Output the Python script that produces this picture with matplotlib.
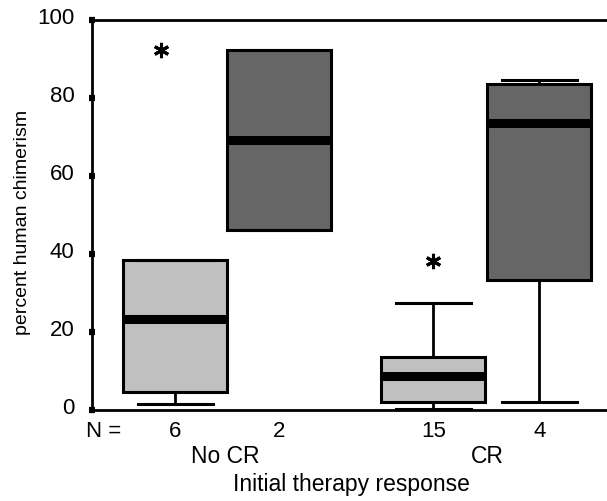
import matplotlib
matplotlib.use("Agg")
import matplotlib.pyplot as plt
import matplotlib.transforms as mtransforms

plt.rcParams['font.family'] = ['Liberation Sans', 'DejaVu Sans']

# Summary statistics per group (percent human chimerism)
groups = ["No CR", "No CR", "CR", "CR"]
n_labels = ["6", "2", "15", "4"]
q1 = [4.7, 46.2, 2.0, 33.3]
medians = [23.3, 69.2, 8.6, 73.6]
q3 = [38.5, 92.3, 13.5, 83.6]
whisker_low = [1.5, 46.2, 0.3, 2.0]
whisker_high = [38.5, 92.3, 27.4, 84.6]
outliers = [[92.3], [], [38.2], []]
outlier_x_offset = [-0.14, 0.0, 0.0, 0.0]
box_colors = ["#c0c0c0", "#666666", "#c0c0c0", "#666666"]
positions = [1.0, 2.0, 3.48, 4.5]
group_names = ["No CR", "CR"]
group_centers = [1.485, 4.0]
yticks = [0, 20, 40, 60, 80, 100]

fig = plt.figure(figsize=(6.07, 5.01), dpi=100)
ax = fig.add_axes([92 / 607, 91 / 501, 1 - 92 / 607, 390 / 501])

stats = []
for i in range(len(positions)):
    stats.append(dict(q1=q1[i], med=medians[i], q3=q3[i],
                      whislo=whisker_low[i], whishi=whisker_high[i],
                      fliers=[]))

bp = ax.bxp(stats, positions=positions, widths=1.0, capwidths=0.72,
            patch_artist=True, showfliers=False,
            boxprops=dict(linewidth=2.2, edgecolor="black"),
            whiskerprops=dict(linewidth=2.0, color="black"),
            capprops=dict(linewidth=2.2, color="black"),
            medianprops=dict(linewidth=6.5, color="black", solid_capstyle="butt"))
for patch, c in zip(bp["boxes"], box_colors):
    patch.set_facecolor(c)

# Extreme values drawn as asterisks
for pos, off, vals in zip(positions, outlier_x_offset, outliers):
    if vals:
        ax.plot([pos + off] * len(vals), vals, linestyle="none",
                marker=(6, 2, 0), markersize=11, markeredgewidth=2.2,
                color="black", clip_on=False)

ax.set_xlim(0.2, 5.15)
ax.set_ylim(0, 100)
ax.set_yticks(yticks)
ax.set_xticks([])
ax.spines["right"].set_visible(False)
for s in ["left", "top", "bottom"]:
    ax.spines[s].set_linewidth(2.0)
ax.tick_params(axis="y", direction="inout", length=5, width=4.5,
               labelsize=16, pad=10)
offset = mtransforms.ScaledTranslation(0, 3 / 72, fig.dpi_scale_trans)
for lab in ax.get_yticklabels():
    lab.set_transform(lab.get_transform() + offset)

ax.set_ylabel("percent human chimerism", fontsize=14)
ax.yaxis.set_label_coords(-0.118, 0.48)

# Sample sizes and group labels below the axis
trans = mtransforms.blended_transform_factory(ax.transData, ax.transAxes)
ax.text(0.14, -0.056, "N =", transform=trans, ha="left", va="center",
        fontsize=16)
for pos, n in zip(positions, n_labels):
    ax.text(pos, -0.056, n, transform=trans, ha="center", va="center",
            fontsize=16)
for c, g in zip(group_centers, group_names):
    ax.text(c, -0.12, g, transform=trans, ha="center", va="center",
            fontsize=16.5)
ax.text(2.69, -0.192, "Initial therapy response", transform=trans,
        ha="center", va="center", fontsize=16.5)

fig.savefig("out.png", dpi=100)
